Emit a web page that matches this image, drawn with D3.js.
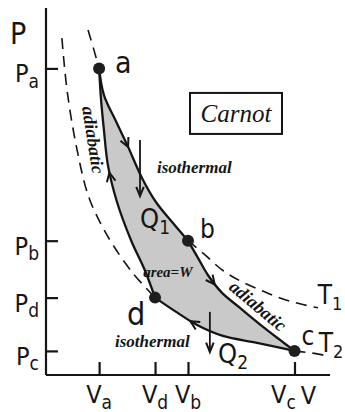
<!DOCTYPE html>
<html><head><meta charset="utf-8">
<script src="https://cdn.jsdelivr.net/npm/d3@7"></script>
<style>
html,body{margin:0;padding:0;background:#fff;}
svg{display:block;}
</style></head><body>
<svg id="chart" width="345" height="412"></svg>
<script>
// Carnot cycle on the P–V plane (arbitrary units)
const stateNames = ["a", "b", "c", "d"];
const stateV = [1.87, 5.00, 8.75, 3.84];
const stateP = [8.40, 3.68, 0.66, 2.12];

// which states get a tick on each axis
const vTickStates = ["a", "d", "b", "c"];
const pTickStates = ["a", "b", "d", "c"];

// legs of the cycle as [V, P] pairs, in the order the cycle runs
const isothermHot = [[1.87,8.40],[2.04,7.67],[2.46,6.96],[2.89,6.25],[3.38,5.40],[3.87,4.74],[4.44,4.19],[5.00,3.68]];
const adiabatExpand = [[5.00,3.68],[5.35,3.21],[5.70,2.74],[6.20,2.25],[6.83,1.84],[7.61,1.34],[8.24,0.96],[8.75,0.66]];
const isothermCold = [[8.75,0.66],[7.43,0.88],[6.23,1.07],[5.32,1.37],[4.54,1.75],[3.84,2.12]];
const adiabatCompress = [[3.84,2.12],[3.49,2.85],[2.99,3.70],[2.50,4.74],[2.18,5.75],[2.04,6.71],[1.94,7.53],[1.87,8.40]];

// the two isotherms continued outside the cycle
const hotIsoAbove = [[1.48,9.45],[1.69,8.90],[1.87,8.40]];
const hotIsoBelow = [[5.00,3.68],[5.60,3.29],[6.20,2.88],[6.83,2.58],[7.54,2.33],[8.24,2.11],[8.94,1.95],[9.58,1.84]];
const coldIsoAbove = [[0.56,9.23],[0.74,7.81],[1.06,6.30],[1.48,4.93],[1.90,4.19],[2.36,3.56],[3.06,2.79],[3.84,2.12]];
const coldIsoBelow = [[8.75,0.66],[9.37,0.60],[9.93,0.52]];

// where along each leg its direction arrow sits (fraction of length)
const legArrowAt = [0.43, 0.33, 0.72, 0.56];

// heat flow arrows: V position, start P, end P
const heatV = [3.31, 5.77];
const heatFrom = [6.44, 1.73];
const heatTo = [4.90, 0.63];

const svg = d3.select("#chart");
const x = d3.scaleLinear().domain([0, 10]).range([46, 330]);
const y = d3.scaleLinear().domain([0, 10]).range([375, 10]);
const idx = s => stateNames.indexOf(s);

const line = d3.line().x(d => x(d[0])).y(d => y(d[1])).curve(d3.curveCatmullRom.alpha(0.5));

const HAND = "'DejaVu Sans Condensed','DejaVu Sans',sans-serif";
const SCRIPT = "'Liberation Serif','DejaVu Serif',serif";
const INK = "#151515";

// shaded work area
const legs = [isothermHot, adiabatExpand, isothermCold, adiabatCompress];
const areaPath = legs.map((l, i) => i === 0 ? line(l) : line(l).replace(/^M/, "L")).join("") + "Z";
svg.append("path").attr("d", areaPath).attr("fill", "#c9c9c9").attr("stroke", "none");

// dashed isotherm continuations
[hotIsoAbove, hotIsoBelow, coldIsoAbove, coldIsoBelow].forEach(l => {
  svg.append("path").attr("d", line(l)).attr("fill", "none")
    .attr("stroke", INK).attr("stroke-width", 1.6).attr("stroke-dasharray", "11,7");
});

// axes
const xAxis = d3.axisBottom(x)
  .tickValues(vTickStates.map(s => stateV[idx(s)]))
  .tickSizeInner(-13).tickSizeOuter(0).tickFormat("");
const yAxis = d3.axisLeft(y)
  .tickValues(pTickStates.map(s => stateP[idx(s)]))
  .tickSizeInner(-12).tickSizeOuter(0).tickFormat("");
const gx = svg.append("g").attr("transform", `translate(0,${y(0)})`).call(xAxis);
const gy = svg.append("g").attr("transform", `translate(${x(0)},0)`).call(yAxis);
[gx, gy].forEach(g => {
  g.selectAll("path,line").attr("stroke", INK).attr("stroke-width", 2.2);
});
gx.select(".domain").attr("d", `M${x(0)},0H${x(10)}`);
gy.select(".domain").attr("d", `M0,${y(0)}V${y(10) - 2}`);

// cycle legs
legs.forEach(l => {
  svg.append("path").attr("d", line(l)).attr("fill", "none")
    .attr("stroke", INK).attr("stroke-width", 2.3);
});

// open chevron arrowhead at point p pointing along angle ang
function chevron(px, py, ang, len = 10, spread = 26) {
  const r = Math.PI / 180;
  const a1 = ang + Math.PI - spread * r, a2 = ang + Math.PI + spread * r;
  svg.append("path")
    .attr("d", `M${px + len * Math.cos(a1)},${py + len * Math.sin(a1)}L${px},${py}L${px + len * Math.cos(a2)},${py + len * Math.sin(a2)}`)
    .attr("fill", "none").attr("stroke", INK).attr("stroke-width", 2).attr("stroke-linejoin", "miter");
}

// direction arrows on each leg
legs.forEach((l, i) => {
  const tmp = svg.append("path").attr("d", line(l)).attr("fill", "none");
  const node = tmp.node();
  const L = node.getTotalLength();
  const s = L * legArrowAt[i];
  const p0 = node.getPointAtLength(s - 1), p1 = node.getPointAtLength(s + 1);
  const p = node.getPointAtLength(s);
  tmp.remove();
  chevron(p.x, p.y, Math.atan2(p1.y - p0.y, p1.x - p0.x));
});

// heat arrows
heatV.forEach((v, i) => {
  svg.append("line").attr("x1", x(v)).attr("x2", x(v))
    .attr("y1", y(heatFrom[i])).attr("y2", y(heatTo[i]))
    .attr("stroke", INK).attr("stroke-width", 1.8);
  chevron(x(v), y(heatTo[i]), Math.PI / 2, 10, 22);
});

// state points
stateNames.forEach((s, i) => {
  svg.append("circle").attr("cx", x(stateV[i])).attr("cy", y(stateP[i])).attr("r", 6)
    .attr("fill", "#1e1e1e");
});

// text helper: main text with optional subscript
function label(main, sub, px, py, size, subSize, opts = {}) {
  const t = svg.append("text").attr("x", px).attr("y", py)
    .attr("font-family", opts.family || HAND)
    .attr("font-stretch", opts.family ? "normal" : "condensed")
    .attr("font-size", size).attr("fill", INK)
    .attr("text-anchor", opts.anchor || "start");
  if (opts.style) t.attr("font-style", opts.style);
  if (opts.weight) t.attr("font-weight", opts.weight);
  t.append("tspan").text(main);
  if (sub) t.append("tspan").attr("font-size", subSize).attr("dy", size * 0.22).text(sub);
  return t;
}

// axis titles
label("P", null, x(0) - 36, y(9.07), 30);
label("V", null, x(8.97), 404, 25);

// pressure tick labels
pTickStates.forEach(s => {
  label("P", s, x(0) - 7, y(stateP[idx(s)]) + 14, 25, 19, { anchor: "end" });
});
// volume tick labels
vTickStates.forEach(s => {
  const off = s === "c" ? -11 : 0;
  label("V", s, x(stateV[idx(s)]) + off, 403, 25, 19, { anchor: "middle" });
});

// state letters
const stateLabelDx = [16, 12, 7, -28];
const stateLabelDy = [5, -3, -6, 27];
const stateLabelSize = [30, 26, 26, 32];
stateNames.forEach((s, i) => {
  label(s, null, x(stateV[i]) + stateLabelDx[i], y(stateP[i]) + stateLabelDy[i], stateLabelSize[i]);
});

// temperature labels
label("T", "1", x(9.57), y(1.95), 26, 18);
label("T", "2", x(9.6), y(0.63), 26, 18);

// heat labels
label("Q", "1", x(3.31), y(4.03), 27, 19);
label("Q", "2", x(6.06), y(0.33), 27, 19);

// process annotations
const ann = { family: SCRIPT, style: "italic", weight: "bold" };
label("isothermal", null, x(3.91), y(5.53), 17, null, ann);
label("isothermal", null, x(2.43), y(0.77), 17, null, ann);
svg.append("text").attr("transform", `translate(${x(1.66)},${y(6.44)}) rotate(81)`)
  .attr("text-anchor", "middle").attr("dominant-baseline", "central")
  .attr("font-family", SCRIPT).attr("font-style", "italic").attr("font-weight", "bold")
  .attr("font-size", 18).attr("fill", INK).text("adiabatic");
svg.append("text").attr("transform", `translate(${x(7.46)},${y(1.89)}) rotate(40)`)
  .attr("text-anchor", "middle").attr("dominant-baseline", "central")
  .attr("font-family", SCRIPT).attr("font-style", "italic").attr("font-weight", "bold")
  .attr("font-size", 18).attr("fill", INK).text("adiabatic");
label("area=W", null, x(3.42), y(2.68), 15, null, { family: SCRIPT, style: "italic", weight: "bold" });

// title box
const bx = x(6.69), by = y(7.18);
svg.append("rect").attr("x", bx - 46).attr("y", by - 20).attr("width", 92).attr("height", 41)
  .attr("fill", "none").attr("stroke", INK).attr("stroke-width", 2);
label("Carnot", null, bx, by + 9, 25, null, { family: SCRIPT, style: "italic", anchor: "middle" });
</script>
</body></html>
